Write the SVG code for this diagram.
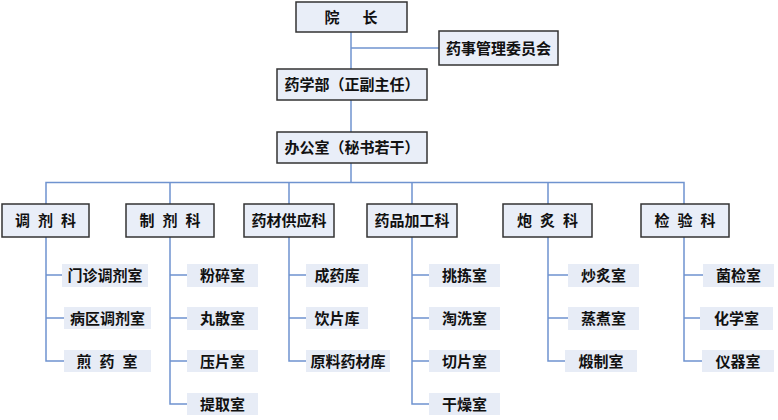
<svg xmlns="http://www.w3.org/2000/svg" width="778" height="420" viewBox="0 0 778 420">
<style>
.box{fill:#e9eef8;stroke:#333;stroke-width:1.5}
.sub{fill:#e7ecf6}
.ln{fill:none;stroke:#6f93cf;stroke-width:1.5}
text{font-family:"Noto Sans CJK SC","Noto Sans CJK TC",sans-serif;font-size:15px;font-weight:bold;fill:#111;text-anchor:middle}
</style>
<rect width="778" height="420" fill="#fff"/>
<g id="connectors" class="ln">
<path d="M351,32V183"/>
<path d="M351,48H439"/>
<path d="M46,204V182.5H684V204"/>
<path d="M170,182.5V204M289,182.5V204M412,182.5V204M548,182.5V204"/>
<path d="M46,237V361H64M46,275H62M46,318H64"/>
<path d="M170,237V404H187M170,275H187M170,318H187M170,361H187"/>
<path d="M289,237V361H306M289,275H306M289,318H306"/>
<path d="M412,237V404H429M412,275H429M412,318H429M412,361H429"/>
<path d="M548,237V361H565M548,275H568M548,318H568"/>
<path d="M684,237V361H702M684,275H703M684,318H700"/>
</g>
<g id="n-yuanzhang"><rect class="box" x="296" y="2" width="111" height="30"/><text x="332" y="22.5">院</text><text x="370" y="22.5">长</text></g>
<g id="n-weiyuanhui"><rect class="box" x="439" y="31" width="119" height="34"/><text x="498.5" y="53.5">药事管理委员会</text></g>
<g id="n-yaoxuebu"><rect class="box" x="277" y="69" width="150" height="31"/><text x="352" y="90">药学部（正副主任）</text></g>
<g id="n-bangongshi"><rect class="box" x="277" y="132" width="150" height="31"/><text x="352" y="153">办公室（秘书若干）</text></g>
<g id="n-tiaoji"><rect class="box" x="2" y="204" width="87" height="33"/><text x="22.5" y="226">调</text><text x="45.5" y="226">剂</text><text x="68.5" y="226">科</text></g>
<g id="n-zhiji"><rect class="box" x="126" y="204" width="88" height="33"/><text x="147" y="226">制</text><text x="170" y="226">剂</text><text x="193" y="226">科</text></g>
<g id="n-yaocai"><rect class="box" x="244" y="204" width="90" height="33"/><text x="289" y="226">药材供应科</text></g>
<g id="n-jiagong"><rect class="box" x="367" y="204" width="90" height="33"/><text x="412" y="226">药品加工科</text></g>
<g id="n-paozhi"><rect class="box" x="503" y="204" width="89" height="33"/><text x="524.5" y="226">炮</text><text x="547.5" y="226">炙</text><text x="570.5" y="226">科</text></g>
<g id="n-jianyan"><rect class="box" x="641" y="204" width="88" height="33"/><text x="662" y="226">检</text><text x="685" y="226">验</text><text x="708" y="226">科</text></g>
<g id="n-menzhen"><rect class="sub" x="62" y="264" width="86" height="23"/><text x="105" y="281">门诊调剂室</text></g>
<g id="n-bingqu"><rect class="sub" x="64" y="307" width="87" height="22"/><text x="107.5" y="323.5">病区调剂室</text></g>
<g id="n-jianyao"><rect class="sub" x="64" y="350" width="87" height="22"/><text x="84" y="366.5">煎</text><text x="107" y="366.5">药</text><text x="130" y="366.5">室</text></g>
<g id="n-fensui"><rect class="sub" x="187" y="264" width="71" height="23"/><text x="222.5" y="281">粉碎室</text></g>
<g id="n-wansan"><rect class="sub" x="187" y="307" width="71" height="23"/><text x="222.5" y="324">丸散室</text></g>
<g id="n-yapian"><rect class="sub" x="187" y="350" width="71" height="22"/><text x="222.5" y="366.5">压片室</text></g>
<g id="n-tiqu"><rect class="sub" x="187" y="393" width="71" height="22"/><text x="222.5" y="409.5">提取室</text></g>
<g id="n-chengyao"><rect class="sub" x="306" y="264" width="62" height="23"/><text x="337" y="281">成药库</text></g>
<g id="n-yinpian"><rect class="sub" x="306" y="307" width="62" height="22"/><text x="337" y="323.5">饮片库</text></g>
<g id="n-yuanliao"><rect class="sub" x="306" y="350" width="84" height="22"/><text x="348" y="366.5">原料药材库</text></g>
<g id="n-tiaojian"><rect class="sub" x="429" y="264" width="71" height="23"/><text x="464.5" y="281">挑拣室</text></g>
<g id="n-taoxi"><rect class="sub" x="429" y="307" width="71" height="23"/><text x="464.5" y="324">淘洗室</text></g>
<g id="n-qiepian"><rect class="sub" x="429" y="350" width="71" height="22"/><text x="464.5" y="366.5">切片室</text></g>
<g id="n-ganzao"><rect class="sub" x="429" y="393" width="71" height="22"/><text x="464.5" y="409.5">干燥室</text></g>
<g id="n-chaozhi"><rect class="sub" x="568" y="264" width="71" height="23"/><text x="603.5" y="281">炒炙室</text></g>
<g id="n-zhengzhu"><rect class="sub" x="568" y="307" width="71" height="23"/><text x="603.5" y="324">蒸煮室</text></g>
<g id="n-duanzhi"><rect class="sub" x="565" y="350" width="72" height="22"/><text x="601" y="366.5">煅制室</text></g>
<g id="n-junjian"><rect class="sub" x="703" y="264" width="71" height="23"/><text x="738.5" y="281">菌检室</text></g>
<g id="n-huaxue"><rect class="sub" x="700" y="307" width="73" height="23"/><text x="736.5" y="324">化学室</text></g>
<g id="n-yiqi"><rect class="sub" x="702" y="350" width="72" height="22"/><text x="738" y="366.5">仪器室</text></g>
</svg>
